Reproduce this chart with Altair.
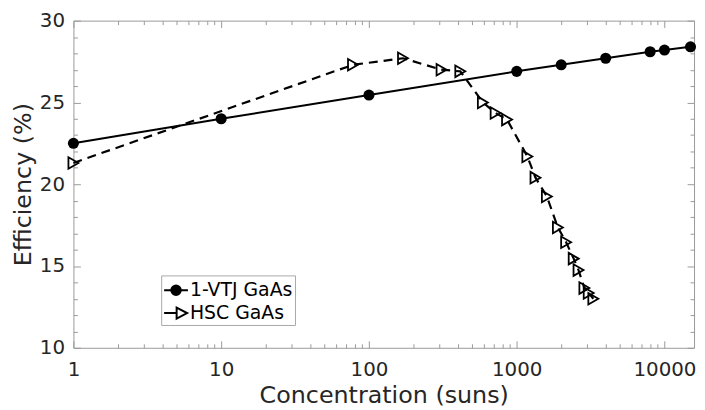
import altair as alt
import pandas as pd

# ---- data ----
vtj_conc = [1, 10, 100, 1000, 2000, 4000, 8000, 10000, 15000]
vtj_eff = [22.5, 24.0, 25.45, 26.9, 27.3, 27.7, 28.1, 28.2, 28.4]

hsc_conc = [1, 78, 170, 310, 415, 590, 720, 860, 1180, 1340, 1600, 1900,
            2160, 2430, 2620, 2870, 3070, 3300]
hsc_eff = [21.3, 27.3, 27.7, 27.0, 26.9, 25.0, 24.35, 23.95, 21.7, 20.4,
           19.25, 17.35, 16.45, 15.45, 14.75, 13.65, 13.35, 13.0]

legend_names = ["1-VTJ GaAs", "HSC GaAs"]

x_major = [1, 10, 100, 1000, 10000]
x_minor = [2, 3, 4, 5, 6, 7, 8, 9,
           20, 30, 40, 50, 60, 70, 80, 90,
           200, 300, 400, 500, 600, 700, 800, 900,
           2000, 3000, 4000, 5000, 6000, 7000, 8000, 9000]
y_major = [10, 15, 20, 25, 30]
y_minor = [11, 12, 13, 14, 16, 17, 18, 19, 21, 22, 23, 24, 26, 27, 28, 29]

vtj = pd.DataFrame({"conc": vtj_conc, "eff": vtj_eff})
hsc = pd.DataFrame({"conc": hsc_conc, "eff": hsc_eff})
leg = pd.DataFrame({"series": legend_names})

GRAY = "#9a9a9a"
TXT = "#262626"
FONT = "DejaVu Sans"
MAJ = 7
MIN = 4

xscale = alt.Scale(type="log", domain=[1, 15849], nice=False)
yscale = alt.Scale(domain=[10, 30], nice=False, zero=False)


def xax(orient, vals, size, labels=False, title=None):
    kw = dict(orient=orient, values=vals, tickSize=size, offset=-size,
              labels=labels, domain=False, grid=False, tickColor=GRAY,
              tickWidth=1, title=title)
    if labels:
        kw.update(labelFont=FONT, labelFontSize=20, labelColor=TXT,
                  labelPadding=12, format="d", labelFlush=False,
                  labelOverlap=False)
    if title:
        kw.update(titleFont=FONT, titleFontSize=24, titleColor=TXT,
                  titleFontWeight="normal", titlePadding=4)
    return alt.Axis(**kw)


def yax(orient, vals, size, labels=False, title=None):
    kw = dict(orient=orient, values=vals, tickSize=size, offset=-size,
              labels=labels, domain=False, grid=False, tickColor=GRAY,
              tickWidth=1, title=title)
    if labels:
        kw.update(labelFont=FONT, labelFontSize=20, labelColor=TXT,
                  labelPadding=9, labelOverlap=False)
    if title:
        kw.update(titleFont=FONT, titleFontSize=24, titleColor=TXT,
                  titleFontWeight="normal", titlePadding=4)
    return alt.Axis(**kw)


vtj_line = alt.Chart(vtj).mark_line(color="black", strokeWidth=2).encode(
    x=alt.X("conc:Q", scale=xscale,
            axis=xax("bottom", x_major, MAJ, True, "Concentration (suns)")),
    y=alt.Y("eff:Q", scale=yscale,
            axis=yax("left", y_major, MAJ, True, "Efficiency (%)")),
)
vtj_pts = alt.Chart(vtj).mark_point(shape="circle", filled=True, size=125,
                                    color="black", opacity=1).encode(
    x=alt.X("conc:Q", scale=xscale, axis=xax("bottom", x_minor, MIN)),
    y=alt.Y("eff:Q", scale=yscale, axis=yax("left", y_minor, MIN)),
)
hsc_line = alt.Chart(hsc).mark_line(color="black", strokeWidth=2.2,
                                    strokeDash=[9, 6]).encode(
    x=alt.X("conc:Q", scale=xscale, axis=xax("top", x_major, MAJ)),
    y=alt.Y("eff:Q", scale=yscale, axis=yax("right", y_major, MAJ)),
)
hsc_pts = alt.Chart(hsc).mark_point(shape="triangle-right", filled=False,
                                    size=135, color="black", strokeWidth=1.8,
                                    opacity=1).encode(
    x=alt.X("conc:Q", scale=xscale, axis=xax("top", x_minor, MIN)),
    y=alt.Y("eff:Q", scale=yscale, axis=yax("right", y_minor, MIN)),
)

# legend glyphs (stroked): line + solid disc (concentric rings), line + hollow triangle
def ring(r):
    return "M%.2f,0A%.2f,%.2f,0,1,1,-%.2f,0A%.2f,%.2f,0,1,1,%.2f,0Z" % (
        r, r, r, r, r, r, r)

path_vtj = "M-1,0L1,0" + "".join(ring(r) for r in [0.40, 0.28, 0.16, 0.05])
path_hsc = "M-1,0L0.05,0M0.05,-0.46L0.93,0L0.05,0.46Z"

legend_spec = alt.Legend(
    orient="none", legendX=88.5, legendY=257, title=None, padding=2,
    strokeColor="#a8a8a8", fillColor="white", labelFont=FONT,
    labelFontSize=19, labelColor="black", symbolSize=576,
    symbolStrokeWidth=2, symbolStrokeColor="black", symbolOpacity=1,
    rowPadding=0, labelOffset=1, cornerRadius=0,
)

legend_layer = alt.Chart(leg).transform_filter("false").mark_point(
    filled=False, color="black", strokeWidth=2, opacity=1).encode(
    shape=alt.Shape("series:N",
                    scale=alt.Scale(domain=legend_names,
                                    range=[path_vtj, path_hsc]),
                    legend=legend_spec),
)

chart = alt.layer(vtj_line, vtj_pts, hsc_line, hsc_pts, legend_layer).resolve_axis(
    x="independent", y="independent"
).properties(
    width=626, height=330,
    padding={"left": 66, "top": 11, "right": 3, "bottom": 60},
    autosize=alt.AutoSizeParams(type="none"),
).configure_view(stroke=GRAY, strokeWidth=1)

chart.save("out.html", embed_options={"renderer": "svg", "actions": False})
